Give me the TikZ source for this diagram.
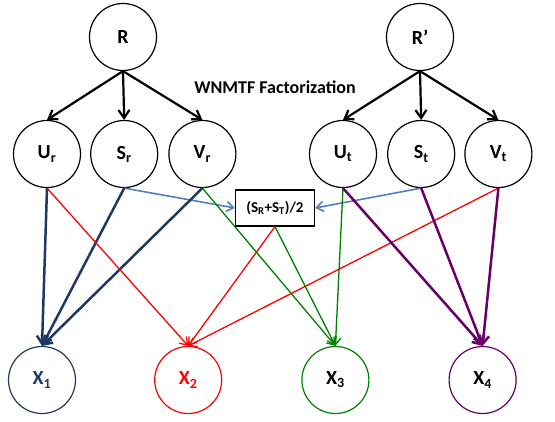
\documentclass[tikz,border=0pt]{standalone}
\usepackage{fontspec}
\setmainfont{Carlito}
\usepackage{tikz}
\usetikzlibrary{arrows.meta,positioning}
\usepackage{xcolor}

\definecolor{navyx}{HTML}{1F3864}
\definecolor{greenx}{HTML}{008000}
\definecolor{purplex}{HTML}{660066}
\definecolor{bluex}{HTML}{4F81BD}

\begin{document}
\begin{tikzpicture}[
  x=1pt, y=-1pt,
  varnode/.style={circle, draw=black, line width=1.2pt, minimum size=67pt, inner sep=0pt,
                  font=\fontsize{20}{24}\selectfont\bfseries},
  avgnode/.style={rectangle, draw=black, line width=1.2pt, minimum width=79pt,
                  minimum height=36pt, font=\fontsize{15}{18}\selectfont\bfseries},
  factarrow/.style={-{Straight Barb[length=8pt,width=11pt]}, line width=2.2pt, black},
  boldarrow/.style={-{Straight Barb[length=8pt,width=11pt]}, line width=2.5pt},
  thinarrow/.style={-{Straight Barb[length=7pt,width=10pt]}, line width=1.3pt},
  >=Stealth
]
\useasboundingbox (0,0) rectangle (555,421);

% Source matrices
\node[varnode] (R) at (123,37) {R};
\node[varnode] (Rp) at (420,37) {R’};

% Factors of R
\node[varnode] (Ur) at (47,154) {U\textsubscript{r}};
\node[varnode, right=9pt of Ur] (Sr) {S\textsubscript{r}};
\node[varnode, right=10pt of Sr] (Vr) {V\textsubscript{r}};

% Factors of R'
\node[varnode] (Ut) at (343,154) {U\textsubscript{t}};
\node[varnode, right=10pt of Ut] (St) {S\textsubscript{t}};
\node[varnode, right=9pt of St] (Vt) {V\textsubscript{t}};

% Averaged S
\node[avgnode] (avg) at (275,208) {(S\textsubscript{R}+S\textsubscript{T})/2};

% Reconstructions
\node[varnode, draw=navyx, text=navyx] (X1) at (42,380) {X\textsubscript{1}};
\node[varnode, draw=red, text=red, right=78pt of X1] (X2) {X\textsubscript{2}};
\node[varnode, draw=greenx, right=79pt of X2] (X3) {X\textsubscript{3}};
\node[varnode, draw=purplex, right=79pt of X3] (X4) {X\textsubscript{4}};

% Title
\node[font=\fontsize{18}{22}\selectfont\bfseries] (title) at (275,87) {WNMTF Factorization};

% Factorization arrows
\foreach \f in {Ur,Sr,Vr}
  \draw[factarrow] (R.south) -- (\f.north);
\foreach \f in {Ut,St,Vt}
  \draw[factarrow] (Rp.south) -- (\f.north);

% Shared S
\draw[thinarrow, bluex, line width=1.6pt] (Sr.south) -- (avg.west);
\draw[thinarrow, bluex, line width=1.6pt] (St.south) -- (avg.east);

% X1
\draw[boldarrow, navyx] (Ur.south) -- (X1.north);
\draw[boldarrow, navyx] (Sr.south) -- (X1.north);
\draw[boldarrow, navyx] (Vr.south) -- (X1.north);

% X2
\draw[thinarrow, red] (Ur.south) -- (X2.north);
\draw[thinarrow, red] (avg.south) -- (X2.north);
\draw[thinarrow, red] (Vt.south) -- (X2.north);

% X3
\draw[thinarrow, greenx] (Vr.south) -- (X3.north);
\draw[thinarrow, greenx] (avg.south) -- (X3.north);
\draw[thinarrow, greenx] (Ut.south) -- (X3.north);

% X4
\draw[boldarrow, purplex] (Ut.south) -- (X4.north);
\draw[boldarrow, purplex] (St.south) -- (X4.north);
\draw[boldarrow, purplex] (Vt.south) -- (X4.north);

\end{tikzpicture}
\end{document}
